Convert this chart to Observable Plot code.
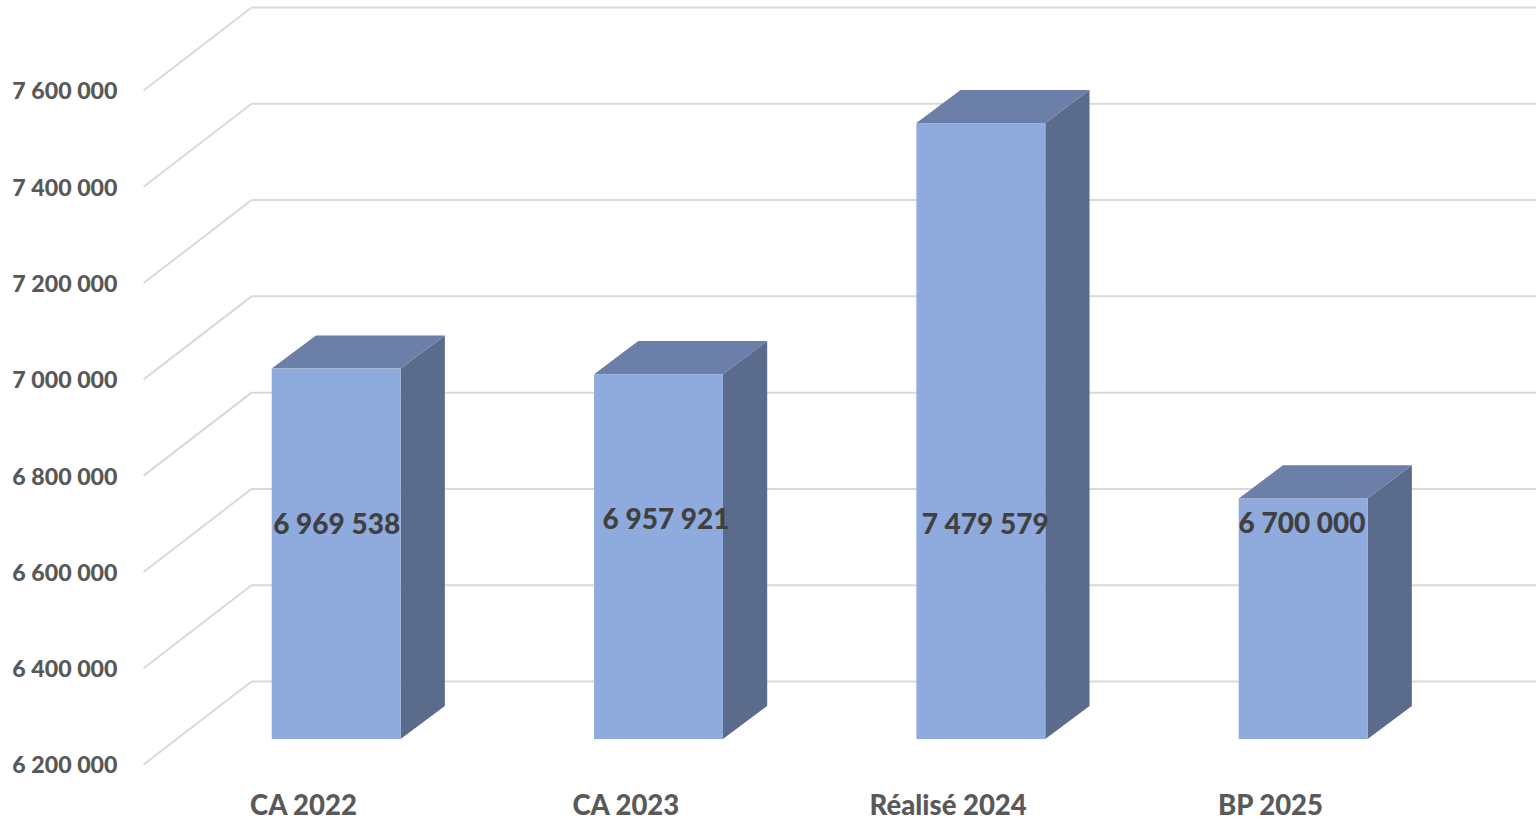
<!DOCTYPE html>
<html><head><meta charset="utf-8">
<script src="https://cdn.jsdelivr.net/npm/d3@7"></script>
<script src="https://cdn.jsdelivr.net/npm/@observablehq/plot@0.6"></script>
<style>html,body{margin:0;padding:0;background:#fff;overflow:hidden}svg{display:block}</style>
</head><body><div id="chart"></div>
<script>
const categories = ["CA 2022", "CA 2023", "Réalisé 2024", "BP 2025"];
const values = [6969538, 6957921, 7479579, 6700000];
const valueTicks = [6200000, 6400000, 6600000, 6800000, 7000000, 7200000, 7400000, 7600000];
const labelLevels = [6697000, 6707500, 6697000, 6699500];
const labelNudges = [0, 0.022, 0.012, -0.005];

const base = 6200000, depthX = 0.343, depthY = 172400;
const barFront = 0.3, barBack = 0.7, halfWidth = 0.2;
const wallFront = -0.496, wallBack = -0.1612, wallEnd = 3.85;
const font = "Lato, Carlito, 'Open Sans', sans-serif";
const fmt = n => d3.format(",")(n).replace(/,/g, " ");
const idx = d3.range(categories.length);
const cx = (i, d) => i + d * depthX;

const sideFaces = idx.flatMap(i => [barFront, barBack].map(d => ({
  i, x: cx(i, d) + halfWidth, y1: base + d * depthY, y2: values[i] + d * depthY
})));
const topFaces = idx.flatMap(i => [barFront, barBack].map(d => ({
  i, y: values[i] + d * depthY, x1: cx(i, d) - halfWidth, x2: cx(i, d) + halfWidth
})));

const chart = Plot.plot({
  width: 1536, height: 820,
  marginLeft: 117, marginBottom: 56, marginTop: 0, marginRight: 0,
  x: {type: "linear", domain: [0, 3], range: [303, 1270], axis: null},
  y: {type: "linear", domain: [6200000, 7600000], range: [764, 90], axis: null},
  style: {fontFamily: font, background: "#fff"},
  marks: [
    Plot.link(valueTicks, {x1: wallBack, x2: wallEnd, y1: d => d + depthY, y2: d => d + depthY, stroke: "#d9d9d9", strokeWidth: 2}),
    Plot.link(valueTicks, {x1: wallFront, x2: wallBack, y1: d => d, y2: d => d + depthY, stroke: "#d9d9d9", strokeWidth: 2}),
    Plot.areaY(sideFaces, {x: "x", y1: "y1", y2: "y2", z: "i", fill: "#5b6b8c"}),
    Plot.areaX(topFaces, {y: "y", x1: "x1", x2: "x2", z: "i", fill: "#6c7fa8"}),
    Plot.rect(idx, {
      x1: i => cx(i, barFront) - halfWidth, x2: i => cx(i, barFront) + halfWidth,
      y1: base + barFront * depthY, y2: i => values[i] + barFront * depthY,
      fill: "#8faadc"
    }),
    Plot.text(idx, {
      x: i => cx(i, barFront) + labelNudges[i], y: i => labelLevels[i],
      text: i => fmt(values[i]), fontSize: 28, fontWeight: 900, fill: "#404040"
    }),
    Plot.axisY({ticks: valueTicks, tickFormat: fmt, tickSize: 0, tickPadding: 0, dy: 1.5, fontSize: 23.2, fontWeight: 900, color: "#595959", anchor: "left", label: null}),
    Plot.axisX({ticks: idx, tickFormat: i => categories[i], tickSize: 0, tickPadding: 30.5, fontSize: 27.5, fontWeight: 900, color: "#595959", anchor: "bottom", label: null})
  ]
});
document.getElementById("chart").append(chart);
</script></body></html>
